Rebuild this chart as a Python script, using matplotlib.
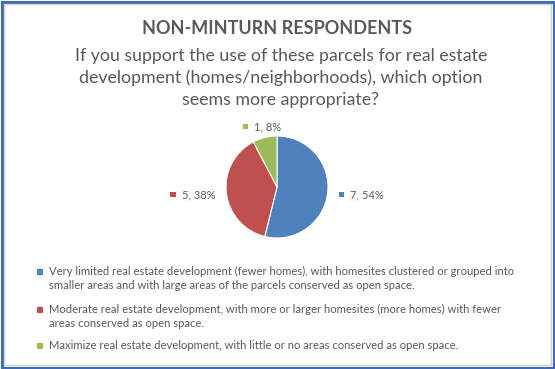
import matplotlib.pyplot as plt
from matplotlib.patches import Rectangle
import numpy as np

plt.rcParams['font.family'] = ['Lato', 'DejaVu Sans']

# survey answers
options = [
    "Very limited real estate development (fewer homes), with homesites clustered or grouped into\nsmaller areas and with large areas of the parcels conserved as open space.",
    "Moderate real estate development, with more or larger homesites (more homes) with fewer\nareas conserved as open space.",
    "Maximize real estate development, with little or no areas conserved as open space.",
]
counts = [7, 5, 1]
colors = ['#4F81BD', '#C0504D', '#9BBB59']
text_gray = '#595959'

W, H = 555, 369
fig = plt.figure(figsize=(W / 100, H / 100), dpi=100)

# frame around the whole chart
fig.patches.append(Rectangle((1.5 / W, 1.5 / H), 1 - 3 / W, 1 - 3 / H, transform=fig.transFigure,
                             fill=False, edgecolor='#3F6DB5', lw=2.2, zorder=10))
fig.patches.append(Rectangle((4 / W, 4 / H), 1 - 8 / W, 1 - 8 / H, transform=fig.transFigure,
                             fill=False, edgecolor='#D0D0D0', lw=1.0, zorder=10))

fig.text(277 / W, 1 - 29 / H, "NON-MINTURN RESPONDENTS", ha='center', va='center',
         fontsize=13, fontweight='bold', color=text_gray)
subtitle = ("If you support the use of these parcels for real estate\n"
            "development (homes/neighborhoods), which option\n"
            "seems more appropriate?")
fig.text(281 / W, 1 - 78 / H, subtitle, ha='center', va='center', fontsize=12.8,
         color=text_gray, linespacing=1.42)

# pie: radius 1 data unit == 51 px
r_px = 51
cx, cy = 277, 187
half = 2.2
ax = fig.add_axes([(cx - half * r_px) / W, 1 - (cy + half * r_px) / H,
                   2 * half * r_px / W, 2 * half * r_px / H])
ax.axis('off')

total = sum(counts)
wedges, _ = ax.pie(counts, colors=colors, startangle=90, counterclock=False,
                   radius=1, wedgeprops=dict(edgecolor='white', linewidth=0.8))
ax.set_xlim(-half, half)
ax.set_ylim(-half, half)

fig.canvas.draw()
renderer = fig.canvas.get_renderer()
for w, n, c in zip(wedges, counts, colors):
    ang = np.deg2rad((w.theta1 + w.theta2) / 2)
    x, y = 1.22 * np.cos(ang), 1.22 * np.sin(ang)
    lab = f"{n}, {round(100 * n / total)}%"
    t = ax.text(0, 0, lab, fontsize=8, color=text_gray, va='center', ha='left')
    tw = t.get_window_extent(renderer).width / r_px
    sq = 0.11
    gap = 0.12
    block = sq + gap + tw
    if np.cos(ang) > 0.5:
        left = x
    elif np.cos(ang) < -0.5:
        left = x - block
    else:
        left = x - block / 2
    ax.add_patch(Rectangle((left, y - sq / 2), sq, sq, facecolor=c, edgecolor='none'))
    t.set_position((left + sq + gap, y))

# legend below the pie
rows = [272, 310, 346]
for lab, c, yp in zip(options, colors, rows):
    fig.patches.append(Rectangle((37 / W, 1 - (yp + 3) / H), 6 / W, 6 / H,
                                 transform=fig.transFigure, facecolor=c, edgecolor='none'))
    fig.text(49 / W, 1 - (yp - 6) / H, lab, ha='left', va='top', fontsize=8.1,
             color=text_gray, linespacing=1.38)

fig.savefig('out.png', dpi=100)
